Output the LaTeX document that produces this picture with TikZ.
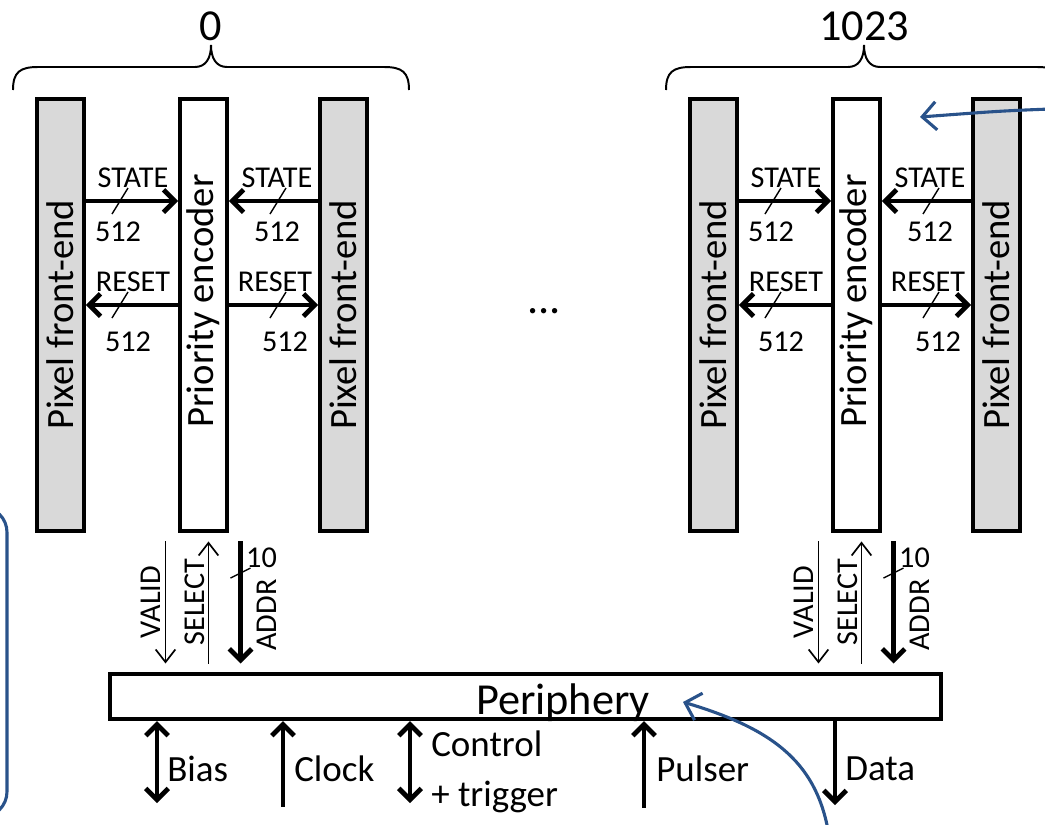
\documentclass[tikz,border=0pt]{standalone}
\usepackage{fontspec}
\setmainfont{Carlito}
\usetikzlibrary{arrows.meta,calc}
\definecolor{fegray}{RGB}{217,217,217}
\definecolor{noteblue}{RGB}{41,82,138}
\tikzset{
	fe/.style={draw, line width=2.8pt, fill=fegray, minimum width=1.17cm, minimum height=10.8cm, inner sep=0pt, font=\fontsize{27.5}{32}\selectfont},
	enc/.style={fe, fill=white},
	bus/.style={line width=3.4pt, >={Straight Barb[length=8pt, width=16pt]}},
	wire/.style={line width=1.2pt, >={Straight Barb[length=9pt, width=14pt]}},
	tick/.style={line width=1pt},
	sig/.style={font=\fontsize{21.5}{26}\selectfont, inner sep=0pt},
	ctl/.style={font=\fontsize{21.5}{26}\selectfont, inner sep=0pt, rotate=90},
	io/.style={font=\fontsize{26.3}{35.5}\selectfont, inner sep=0pt, anchor=west, align=left},
	big/.style={font=\fontsize{31.5}{37}\selectfont, inner sep=0pt},
	brace/.style={line width=1.4pt},
	note/.style={noteblue, line width=2.2pt, -{Straight Barb[length=10pt, width=20pt]}}
}
\begin{document}
\begin{tikzpicture}[x=0.025cm, y=-0.025cm]
	\useasboundingbox (0,0) rectangle (1045,824);
	\clip (0,0) rectangle (1045,824);
	\node[draw, line width=2.8pt, minimum width=20.75cm, minimum height=1.13cm, inner sep=0pt] (peri) at (525.5,696.5) {};
	\node[big, anchor=base] (perilab) at (563,714) {Periphery};
	\foreach \g/\dx/\num in {1/0/0, 2/653/1023}
	{
		\node[fe] (pfeL\g) at (\dx+60.5,315) {\rotatebox{90}{Pixel front-end}};
		\node[enc] (pe\g) at (\dx+203.5,315) {\rotatebox{90}{\hspace*{20pt}Priority encoder}};
		\node[fe] (pfeR\g) at (\dx+343.5,315) {\rotatebox{90}{Pixel front-end}};
		\draw[brace] (\dx+13,90) .. controls (\dx+13,72) and (\dx+20,67) .. (\dx+38,67) -- (\dx+195,67)
			.. controls (\dx+206,67) and (\dx+211,58) .. (\dx+211,45)
			.. controls (\dx+211,58) and (\dx+216,67) .. (\dx+227,67) -- (\dx+384,67)
			.. controls (\dx+402,67) and (\dx+409,72) .. (\dx+409,90);
		\node[big] (idx\g) at (\dx+211,26) {\num};
		\draw[bus,->] (pfeL\g.east |- 0,201) -- (pe\g.west |- 0,201);
		\draw[bus,->] (pfeR\g.west |- 0,201) -- (pe\g.east |- 0,201);
		\draw[bus,->] (pe\g.west |- 0,305) -- (pfeL\g.east |- 0,305);
		\draw[bus,->] (pe\g.east |- 0,305) -- (pfeR\g.west |- 0,305);
		\foreach \sx in {120,278}
			\foreach \sy in {201,305}
				\draw[tick] (\dx+\sx-8,\sy+13) -- (\dx+\sx+8,\sy-13);
		\node[sig] (stateL\g) at (\dx+133,178) {STATE};
		\node[sig] (stateR\g) at (\dx+277,178) {STATE};
		\node[sig] (resetL\g) at (\dx+133,282) {RESET};
		\node[sig] (resetR\g) at (\dx+275,282) {RESET};
		\node[sig] (wsL\g) at (\dx+118,232) {512};
		\node[sig] (wsR\g) at (\dx+277,232) {512};
		\node[sig] (wrL\g) at (\dx+128,342) {512};
		\node[sig] (wrR\g) at (\dx+285,342) {512};
		\coordinate (v\g) at ($(pe\g.south)+(-38,0)$);
		\coordinate (s\g) at ($(pe\g.south)+(5,0)$);
		\coordinate (a\g) at ($(pe\g.south)+(37,0)$);
		\draw[wire,->,shorten <=6pt,shorten >=6pt] (v\g) -- (v\g |- peri.north);
		\draw[wire,<-,shorten <=6pt,shorten >=6pt] (s\g) -- (s\g |- peri.north);
		\draw[bus,->,shorten <=6pt,shorten >=6pt] (a\g) -- (a\g |- peri.north);
		\draw[tick] ($(a\g)+(-10,45)$) -- ($(a\g)+(10,35)$);
		\node[ctl] (valid\g) at ($(v\g)+(-15,69)$) {VALID};
		\node[ctl] (select\g) at ($(s\g)+(-14,69)$) {SELECT};
		\node[ctl] (addr\g) at ($(a\g)+(26,82)$) {ADDR};
		\node[sig] (wa\g) at ($(a\g)+(21,25)$) {10};
	}
	\node[big, anchor=base] (dots) at (544,313) {...};
	\coordinate (bias) at (157,803);
	\coordinate (clock) at (283,807);
	\coordinate (ctrl) at (410,803);
	\coordinate (pulser) at (644,808);
	\coordinate (data) at (835,805);
	\draw[bus,<->] (bias |- peri.south) -- (bias);
	\draw[bus,<-] (clock |- peri.south) -- (clock);
	\draw[bus,<->] (ctrl |- peri.south) -- (ctrl);
	\draw[bus,<-] (pulser |- peri.south) -- (pulser);
	\draw[bus,->] (data |- peri.south) -- (data);
	\node[io] (biaslab) at (167,769) {Bias};
	\node[io] (clocklab) at (294,769) {Clock};
	\node[io] (ctrllab) at (431,772) {Control\\+ trigger};
	\node[io] (pulserlab) at (656,769) {Pulser};
	\node[io] (datalab) at (845,769) {Data};
	\coordinate (noteA) at (1050,109);
	\coordinate (noteB) at (828,830);
	\draw[note] (noteA) .. controls (1000,111) .. (920,117);
	\draw[note] (noteB) .. controls (815,760) and (770,728) .. (683,702);
	\draw[noteblue, line width=2.2pt, rounded corners=18pt] (-60,507) rectangle (7,817);
\end{tikzpicture}
\end{document}
